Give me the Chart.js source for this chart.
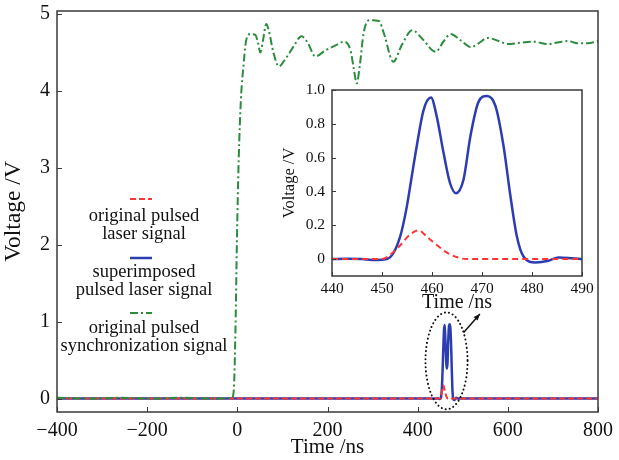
<!DOCTYPE html>
<html>
<head>
<meta charset="utf-8">
<script src="https://cdn.jsdelivr.net/npm/chart.js@4.4.1/dist/chart.umd.min.js"></script>
<style>
  html, body { margin: 0; padding: 0; background: #fff; }
  #wrap { position: relative; width: 619px; height: 460px; }
  #main { position: absolute; left: 0; top: 0; }
  #inset { position: absolute; left: 280px; top: 80px; }
</style>
</head>
<body>
<div id="wrap">
  <canvas id="main" width="619" height="460"></canvas>
  <canvas id="inset" width="325" height="240"></canvas>
</div>
<script>
// series names, as shown in the legend (two lines each)
const seriesNames = [
  ['original pulsed', 'laser signal'],
  ['superimposed', 'pulsed laser signal'],
  ['original pulsed', 'synchronization signal']
];

// synchronization signal, whole record (ns, V)
const syncTime = [-400, -330, -260, -190, -120, -60, -12, -8, -4, -1, 3, 8, 14, 18, 23, 30, 40, 46, 51, 57, 64, 70, 80, 92, 107, 125, 142, 155, 173, 196, 220, 236, 251, 258, 265, 272, 280, 292, 314, 325, 346, 365, 388, 410, 440, 458, 473, 495, 518, 535, 555, 580, 600, 630, 658, 689, 710, 733, 755, 777, 800];
const syncVolt = [0.01, 0.0, 0.01, 0.0, 0.01, 0.0, 0.01, 0.1, 0.94, 2.03, 3.1, 3.9, 4.35, 4.6, 4.72, 4.74, 4.73, 4.62, 4.5, 4.66, 4.87, 4.78, 4.5, 4.32, 4.42, 4.58, 4.71, 4.64, 4.45, 4.53, 4.6, 4.64, 4.53, 4.3, 4.1, 4.35, 4.75, 4.92, 4.91, 4.75, 4.38, 4.6, 4.79, 4.68, 4.51, 4.65, 4.74, 4.66, 4.57, 4.62, 4.69, 4.65, 4.61, 4.63, 4.64, 4.61, 4.63, 4.65, 4.62, 4.62, 4.65];

// superimposed pulsed laser signal around the pulse (ns, V)
const pulseTime = [440, 443, 446, 448, 450, 451.6, 453.6, 454.9, 455.9, 456.9, 458.3, 459.8, 460.9, 462.3, 463.6, 464.8, 466.3, 467.7, 469.3, 471, 472.7, 474.3, 475.7, 477, 478.3, 480.7, 483.3, 485.3, 488, 490];
const superimposed = [0, 0.002, 0, -0.005, -0.004, 0.01, 0.13, 0.3, 0.48, 0.66, 0.88, 0.955, 0.85, 0.63, 0.45, 0.39, 0.47, 0.73, 0.93, 0.965, 0.905, 0.67, 0.37, 0.13, 0.015, -0.02, -0.01, 0.01, 0.005, 0];

// original pulsed laser signal around the pulse (ns, V)
const laserTime = [440, 450, 451.6, 453.6, 455.6, 457.3, 458.9, 460.9, 462.9, 464.9, 466.9, 490];
const original = [0, 0, 0.025, 0.08, 0.145, 0.17, 0.135, 0.085, 0.04, 0.012, 0, 0];

// record ends, flat baseline for the laser traces
const recordTime = [-400, 800];
const recordBase = [0, 0];

// tick labels
const mainXTicks = [-400, -200, 0, 200, 400, 600, 800];
const mainYTicks = [0, 1, 2, 3, 4, 5];
const insetXTicks = [440, 450, 460, 470, 480, 490];
const insetYTicks = [0, 0.2, 0.4, 0.6, 0.8, 1.0];

const FONT = "'Liberation Serif', 'Times New Roman', serif";
const RED = '#ff3434';
const BLUE = '#2b3db0';
const GREEN = '#2a8c3c';
const INK = '#111';

const pts = (xs, ys) => xs.map((x, i) => ({ x: x, y: ys[i] }));
const withEnds = (xs, ys) => [
  { x: recordTime[0], y: recordBase[0] },
  ...pts(xs, ys),
  { x: recordTime[1], y: recordBase[1] }
];
const minus = v => (v < 0 ? '\u2212' + Math.abs(v) : String(v));

// keep the plot box where the layout padding puts it
const noOverflow = s => { s.paddingLeft = 0; s.paddingRight = 0; s.paddingTop = 0; s.paddingBottom = 0; };

// box round the plot and short ticks pointing inside
const frameTicks = {
  id: 'frameTicks',
  afterDatasetsDraw(chart, args, opts) {
    const { ctx, chartArea: a, scales: { x, y } } = chart;
    ctx.save();
    ctx.strokeStyle = '#3a3a3a';
    ctx.lineWidth = 1.5;
    ctx.setLineDash([]);
    ctx.strokeRect(a.left, a.top, a.right - a.left, a.bottom - a.top);
    ctx.beginPath();
    x.ticks.forEach(t => {
      const px = Math.round(x.getPixelForValue(t.value)) + 0.5;
      ctx.moveTo(px, a.bottom);
      ctx.lineTo(px, a.bottom - opts.len);
    });
    y.ticks.forEach(t => {
      const py = Math.round(y.getPixelForValue(t.value)) + 0.5;
      ctx.moveTo(a.left, py);
      ctx.lineTo(a.left + opts.len, py);
    });
    ctx.lineWidth = 1;
    ctx.stroke();
    ctx.restore();
  }
};

// legend stacked in the empty left part of the main plot
const stackedLegend = {
  id: 'stackedLegend',
  afterDraw(chart, args, opts) {
    const ctx = chart.ctx;
    ctx.save();
    opts.items.forEach((item, k) => {
      const ds = chart.data.datasets[k];
      ctx.beginPath();
      ctx.setLineDash(ds.borderDash || []);
      ctx.strokeStyle = ds.borderColor;
      ctx.lineWidth = ds.borderWidth;
      ctx.moveTo(opts.sampleX - 11, item.sample);
      ctx.lineTo(opts.sampleX + 11, item.sample);
      ctx.stroke();
    });
    ctx.setLineDash([]);
    ctx.fillStyle = INK;
    ctx.font = opts.font;
    ctx.textAlign = 'center';
    ctx.textBaseline = 'alphabetic';
    opts.items.forEach((item, k) => {
      seriesNames[k].forEach((line, i) => ctx.fillText(line, opts.textX, item.base + i * 18));
    });
    ctx.restore();
  }
};

// dotted ellipse round the pulse and the arrow pointing to the inset
const callout = {
  id: 'callout',
  afterDraw(chart, args, opts) {
    const { ctx, scales: { x, y } } = chart;
    const cx = x.getPixelForValue(opts.cx), cy = y.getPixelForValue(opts.cy);
    const rx = Math.abs(x.getPixelForValue(opts.cx + opts.rx) - cx);
    const ry = Math.abs(y.getPixelForValue(opts.cy + opts.ry) - cy);
    ctx.save();
    ctx.strokeStyle = '#111';
    ctx.lineWidth = 2;
    ctx.lineCap = 'round';
    ctx.setLineDash([0.1, 4]);
    ctx.beginPath();
    ctx.ellipse(cx, cy, rx, ry, 0, 0, Math.PI * 2);
    ctx.stroke();
    const x0 = x.getPixelForValue(opts.from[0]), y0 = y.getPixelForValue(opts.from[1]);
    const x1 = x.getPixelForValue(opts.to[0]), y1 = y.getPixelForValue(opts.to[1]);
    ctx.setLineDash([]);
    ctx.lineCap = 'butt';
    ctx.lineWidth = 1.5;
    ctx.beginPath();
    ctx.moveTo(x0, y0);
    ctx.lineTo(x1, y1);
    ctx.stroke();
    const ang = Math.atan2(y1 - y0, x1 - x0);
    ctx.fillStyle = '#111';
    ctx.beginPath();
    ctx.moveTo(x1, y1);
    ctx.lineTo(x1 - 7 * Math.cos(ang - 0.4), y1 - 7 * Math.sin(ang - 0.4));
    ctx.lineTo(x1 - 7 * Math.cos(ang + 0.4), y1 - 7 * Math.sin(ang + 0.4));
    ctx.closePath();
    ctx.fill();
    ctx.restore();
  }
};

const lineOpts = {
  point: { radius: 0 },
  line: { cubicInterpolationMode: 'monotone', fill: false }
};

new Chart(document.getElementById('main'), {
  type: 'line',
  data: {
    datasets: [
      { label: seriesNames[0].join(' '), data: withEnds(laserTime, original), borderColor: RED, borderWidth: 2, borderDash: [6, 3], order: 1 },
      { label: seriesNames[1].join(' '), data: withEnds(pulseTime, superimposed), borderColor: BLUE, borderWidth: 2.5, order: 2 },
      { label: seriesNames[2].join(' '), data: pts(syncTime, syncVolt), borderColor: GREEN, borderWidth: 2, borderDash: [8, 3, 2, 3], order: 0 }
    ]
  },
  options: {
    responsive: false,
    animation: false,
    devicePixelRatio: 1,
    layout: { padding: { top: 11, right: 21, left: 0, bottom: 0 } },
    elements: lineOpts,
    plugins: {
      legend: { display: false },
      tooltip: { enabled: false },
      frameTicks: { len: 5 },
      stackedLegend: {
        font: '18.5px ' + FONT,
        sampleX: 141,
        textX: 144,
        items: [
          { sample: 199, base: 221 },
          { sample: 258, base: 277 },
          { sample: 313, base: 333 }
        ]
      },
      callout: { cx: 464, cy: 0.49, rx: 46.7, ry: 0.63, from: [502, 0.86], to: [538, 1.1] }
    },
    scales: {
      x: {
        type: 'linear',
        min: -400,
        max: 800,
        afterFit(s) { s.height = 48; noOverflow(s); },
        afterBuildTicks(s) { s.ticks = mainXTicks.map(v => ({ value: v })); },
        grid: { display: false, drawTicks: false },
        border: { display: false },
        ticks: { padding: 7, color: INK, font: { family: FONT, size: 20 }, maxRotation: 0, callback: v => minus(v) },
        title: { display: true, text: 'Time /ns', color: INK, font: { family: FONT, size: 21 }, padding: { top: 0, bottom: 0 } }
      },
      y: {
        type: 'linear',
        min: -0.175,
        max: 5.04,
        afterFit(s) { s.width = 57; noOverflow(s); },
        afterBuildTicks(s) { s.ticks = mainYTicks.map(v => ({ value: v })); },
        grid: { display: false, drawTicks: false },
        border: { display: false },
        ticks: { padding: 7, color: INK, font: { family: FONT, size: 20 }, callback: v => minus(v) },
        title: { display: true, text: 'Voltage /V', color: INK, font: { family: FONT, size: 23.5 }, padding: { top: 0, bottom: 0 } }
      }
    }
  },
  plugins: [frameTicks, stackedLegend, callout]
});

new Chart(document.getElementById('inset'), {
  type: 'line',
  data: {
    datasets: [
      { label: seriesNames[0].join(' '), data: pts(laserTime, original), borderColor: RED, borderWidth: 2, borderDash: [6, 4], order: 0 },
      { label: seriesNames[1].join(' '), data: pts(pulseTime, superimposed), borderColor: BLUE, borderWidth: 2.5, order: 1 }
    ]
  },
  options: {
    responsive: false,
    animation: false,
    devicePixelRatio: 1,
    layout: { padding: { top: 10, right: 23, left: 0, bottom: 0 } },
    elements: lineOpts,
    plugins: {
      legend: { display: false },
      tooltip: { enabled: false },
      frameTicks: { len: 4 }
    },
    scales: {
      x: {
        type: 'linear',
        min: 440,
        max: 490,
        afterFit(s) { s.height = 44; noOverflow(s); },
        afterBuildTicks(s) { s.ticks = insetXTicks.map(v => ({ value: v })); },
        grid: { display: false, drawTicks: false },
        border: { display: false },
        ticks: { padding: 4, color: INK, font: { family: FONT, size: 15.5 }, maxRotation: 0 },
        title: { display: true, text: 'Time /ns', color: INK, font: { family: FONT, size: 20 }, padding: { top: 0, bottom: 5 } }
      },
      y: {
        type: 'linear',
        min: -0.1,
        max: 1.0,
        afterFit(s) { s.width = 52; noOverflow(s); },
        afterBuildTicks(s) { s.ticks = insetYTicks.map(v => ({ value: v })); },
        grid: { display: false, drawTicks: false },
        border: { display: false },
        ticks: { padding: 7, color: INK, font: { family: FONT, size: 15.5 }, callback: v => (v === 0 ? '0' : v.toFixed(1)) },
        title: { display: true, text: 'Voltage /V', color: INK, font: { family: FONT, size: 16.5 }, padding: { top: 0, bottom: 0 } }
      }
    }
  },
  plugins: [frameTicks]
});
</script>
</body>
</html>
